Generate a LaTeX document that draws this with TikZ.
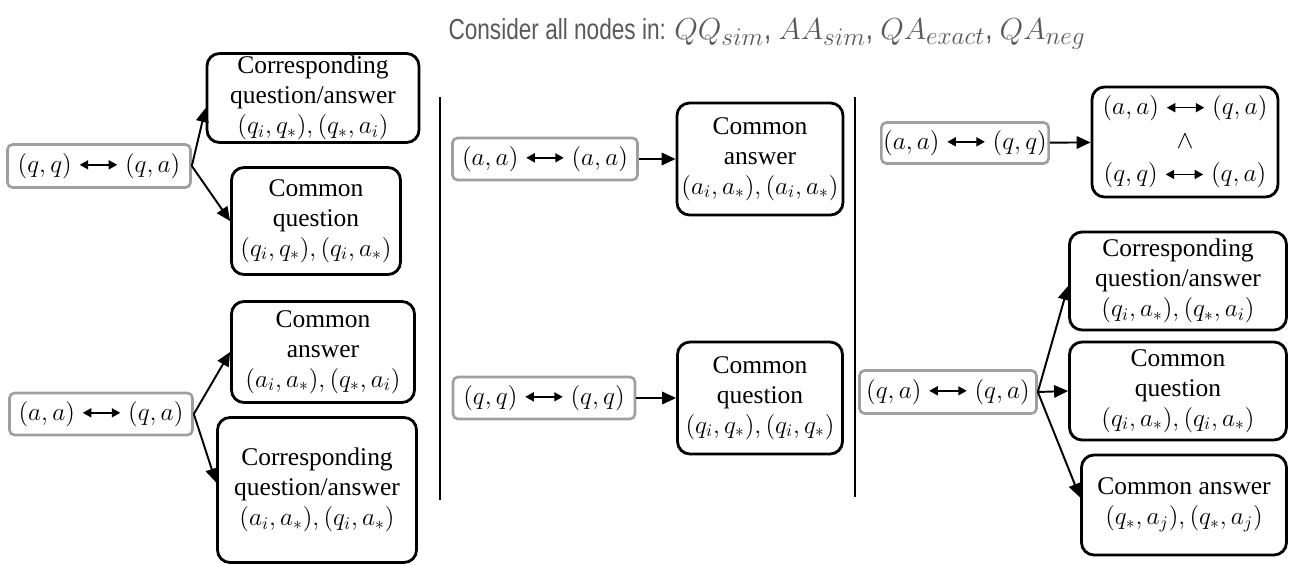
\documentclass[tikz,border=0pt]{standalone}
\usepackage[no-math]{fontspec}
\setmainfont{Liberation Serif}
\newfontfamily\headfont[FakeStretch=0.78]{Liberation Sans}
\usetikzlibrary{arrows.meta, positioning}

\newcommand{\pairarrow}{\mathrel{\tikz[baseline=-0.6ex]\draw[line width=0.9pt, {Triangle[length=1.7mm,width=1.8mm]}-{Triangle[length=1.7mm,width=1.8mm]}] (0,0) -- (0.75,0);}}
\newcommand{\boxfont}{\fontsize{14.5}{17}\selectfont}

\begin{document}
\begin{tikzpicture}[
    pairbox/.style = {draw=gray!75!black!60, line width=1.5pt, rounded corners=0.1cm, inner sep=1pt, font=\fontsize{15.5}{18}\selectfont},
    catbox/.style  = {draw, line width=1.6pt, rounded corners=0.25cm, align=center, inner sep=1pt, font=\boxfont},
    link/.style    = {-{Triangle[length=2.8mm,width=2.5mm]}, line width=1.1pt},
    divider/.style = {line width=1pt}
  ]
  \useasboundingbox (0,0) rectangle (25.82,-11.28);

  % heading
  \node[text=black!65, font=\headfont\fontsize{16.5}{20}\selectfont] (head) at (15.34,-0.68)
    {Consider all nodes in: {\fontsize{19}{20}\selectfont$QQ_{sim}$, $AA_{sim}$, $QA_{exact}$, $QA_{neg}$}};

  % left column
  \node[pairbox, minimum width=3.66cm, minimum height=0.86cm] (qqL) at (1.98,-3.32) {$(q,q)\pairarrow(q,a)$};
  \node[catbox, minimum width=4.24cm, minimum height=1.78cm] (corrL1) at (6.26,-1.96)
    {Corresponding\\ question/answer\\ $(q_i,q_*),(q_*,a_i)$};
  \node[catbox, minimum width=3.38cm, minimum height=2.14cm] (quesL1) at (6.32,-4.42)
    {Common\\ question\\ $(q_i,q_*),(q_i,a_*)$};
  \draw[link] (qqL.east) -- ([yshift=-0.2cm]corrL1.west);
  \draw[link] (qqL.east) -- (quesL1.west);

  \node[pairbox, minimum width=3.66cm, minimum height=0.84cm] (aaL) at (2.02,-8.28) {$(a,a)\pairarrow(q,a)$};
  \node[catbox, minimum width=3.66cm, minimum height=2.02cm] (answL2) at (6.46,-7.04)
    {Common\\ answer\\ $(a_i,a_*),(q_*,a_i)$};
  \node[catbox, minimum width=3.98cm, minimum height=2.9cm] (corrL2) at (6.34,-9.8)
    {Corresponding\\ question/answer\\ $(a_i,a_*),(q_i,a_*)$};
  \draw[link] (aaL.east) -- (answL2.west);
  \draw[link] (aaL.east) -- ([yshift=0.15cm]corrL2.west);

  % dividers
  \draw[divider] (8.8,-1.94) -- (8.8,-10.0);
  \draw[divider] (17.1,-1.94) -- (17.1,-9.94);

  % middle column
  \node[pairbox, minimum width=3.7cm, minimum height=0.84cm] (aaM) at (10.9,-3.18) {$(a,a)\pairarrow(a,a)$};
  \node[catbox, minimum width=3.32cm, minimum height=2.24cm] (answM) at (15.2,-3.18)
    {Common\\ answer\\ $(a_i,a_*),(a_i,a_*)$};
  \draw[link] (aaM) -- (answM);

  \node[pairbox, minimum width=3.64cm, minimum height=0.84cm] (qqM) at (10.88,-7.96) {$(q,q)\pairarrow(q,q)$};
  \node[catbox, minimum width=3.3cm, minimum height=2.24cm] (quesM) at (15.2,-7.96)
    {Common\\ question\\ $(q_i,q_*),(q_i,q_*)$};
  \draw[link] (qqM) -- (quesM);

  % right column
  \node[pairbox, minimum width=3.34cm, minimum height=0.82cm] (aqR) at (19.3,-2.86) {$(a,a)\pairarrow(q,q)$};
  \node[catbox, minimum width=3.72cm, minimum height=2.2cm, font=\fontsize{15}{19}\selectfont] (bothR) at (23.7,-2.84)
    {$(a,a)\pairarrow(q,a)$\\ $\wedge$\\ $(q,q)\pairarrow(q,a)$};
  \draw[link] (aqR) -- (bothR);

  \node[pairbox, minimum width=3.54cm, minimum height=0.86cm] (qaR) at (18.96,-7.84) {$(q,a)\pairarrow(q,a)$};
  \node[catbox, minimum width=4.34cm, minimum height=1.96cm] (corrR) at (23.56,-5.62)
    {Corresponding\\ question/answer\\ $(q_i,a_*),(q_*,a_i)$};
  \node[catbox, minimum width=4.34cm, minimum height=1.96cm] (quesR) at (23.56,-7.82)
    {Common\\ question\\ $(q_i,a_*),(q_i,a_*)$};
  \node[catbox, minimum width=4.1cm, minimum height=2.0cm] (answR) at (23.68,-10.1)
    {Common answer\\ $(q_*,a_j),(q_*,a_j)$};
  \draw[link] (qaR.east) -- ([yshift=-0.1cm]corrR.west);
  \draw[link] (qaR.east) -- (quesR.west);
  \draw[link] (qaR.east) -- ([yshift=0.15cm]answR.west);
\end{tikzpicture}
\end{document}
